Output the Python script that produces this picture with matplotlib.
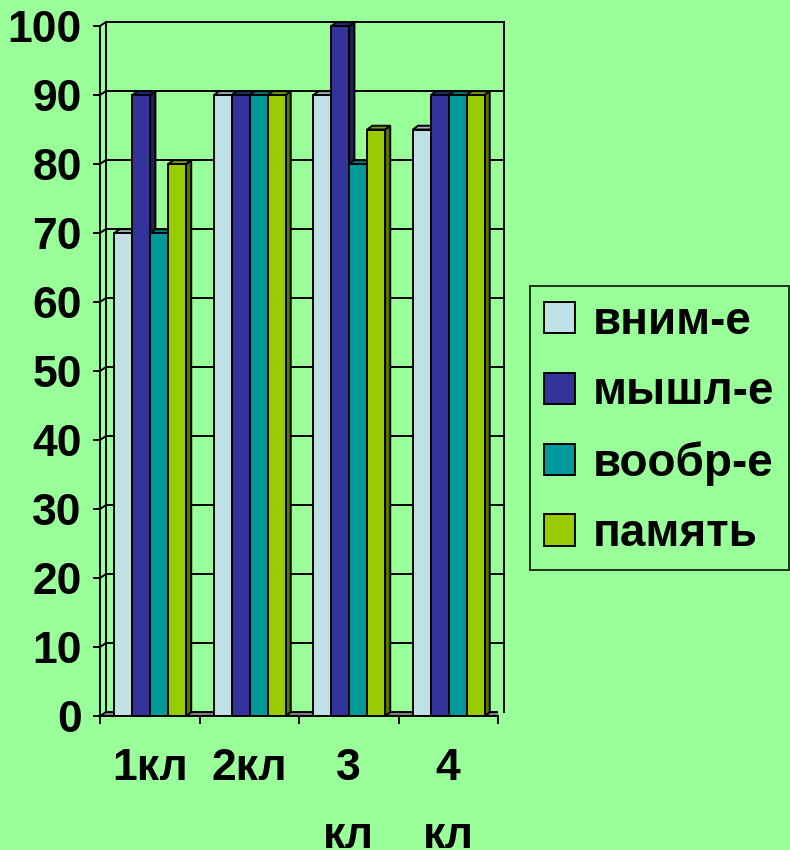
import numpy as np
import matplotlib.pyplot as plt
from matplotlib.patches import Polygon, Patch

plt.rcParams['font.family'] = ['Liberation Sans', 'DejaVu Sans']
plt.rcParams['font.weight'] = 'bold'

# data
classes = ['1кл', '2кл', '3\nкл', '4\nкл']
series = ['вним-е', 'мышл-е', 'вообр-е', 'память']
vnimanie = [70, 90, 90, 85]
myshlenie = [90, 90, 100, 90]
voobrazhenie = [70, 90, 80, 90]
pamyat = [80, 90, 85, 90]
yticks = list(range(0, 101, 10))

values = [vnimanie, myshlenie, voobrazhenie, pamyat]

# front / top / side colours of every series
front_cols = ['#BFE1E6', '#333399', '#009999', '#99CC00']
top_cols = ['#9FB4B8', '#29297A', '#007A7A', '#7A9E00']
side_cols = ['#7F9599', '#20205E', '#005F5F', '#5A7400']
bg = '#99FF99'

# fake 3d depth (data units)
wdx, wdy = 0.06, 0.58     # wall offset
bdx, bdy = 0.052, 0.55    # bar depth
bar_w = 0.18
bar_off = 0.145

fig = plt.figure(figsize=(7.9, 8.5), dpi=100, facecolor=bg)
ax = fig.add_axes([100 / 790, 134 / 850, 398 / 790, 690 / 850])
ax.set_facecolor('none')
ax.set_xlim(0, len(classes))
ax.set_ylim(0, 100)

n = len(classes)
lw = 1.4

# floor
ax.add_patch(Polygon([(0, 0), (n, 0), (n + wdx, wdy), (wdx, wdy)],
                     closed=True, fc='#808080', ec='black', lw=lw, zorder=1))

# back wall, left wall and grid
for v in yticks[1:]:
    ax.plot([wdx, n + wdx], [v + wdy, v + wdy], color='black', lw=lw, zorder=1, clip_on=False)
    ax.plot([0, wdx], [v, v + wdy], color='black', lw=lw, zorder=1, clip_on=False)
ax.plot([wdx, wdx], [wdy, 100 + wdy], color='black', lw=lw, zorder=1, clip_on=False)
ax.plot([n + wdx, n + wdx], [wdy, 100 + wdy], color='black', lw=lw, zorder=1, clip_on=False)

# bars, drawn left to right so later bars cover earlier side faces
z = 2
for c in range(n):
    for i, vals in enumerate(values):
        x0 = c + bar_off + i * bar_w
        x1 = x0 + bar_w
        h = vals[c]
        ax.add_patch(Polygon([(x1, 0), (x1 + bdx, bdy), (x1 + bdx, h + bdy), (x1, h)],
                             closed=True, fc=side_cols[i], ec='black', lw=lw, zorder=z, clip_on=False))
        ax.add_patch(Polygon([(x0, h), (x1, h), (x1 + bdx, h + bdy), (x0 + bdx, h + bdy)],
                             closed=True, fc=top_cols[i], ec='black', lw=lw, zorder=z, clip_on=False))
        ax.bar(x0, h, width=bar_w, align='edge', color=front_cols[i], edgecolor='black',
               linewidth=lw, zorder=z, clip_on=False)
        z += 1

for s in ['top', 'right']:
    ax.spines[s].set_visible(False)
for s in ['left', 'bottom']:
    ax.spines[s].set_linewidth(lw)
    ax.spines[s].set_zorder(50)

ax.set_yticks(yticks)
ax.set_yticklabels([str(v) for v in yticks])
ax.tick_params(axis='y', direction='out', length=5, width=lw, pad=8, labelsize=32)

ax.set_xticks(np.arange(n + 1))
ax.set_xticklabels([])
ax.set_xticks(np.arange(n) + 0.5, minor=True)
ax.set_xticklabels(classes, minor=True, linespacing=1.85)
ax.tick_params(axis='x', which='major', direction='out', length=6, width=lw)
ax.tick_params(axis='x', which='minor', length=0, pad=23, labelsize=32)

handles = [Patch(fc=front_cols[i], ec='black', lw=lw, label=series[i]) for i in range(len(series))]
leg = fig.legend(handles=handles, loc='upper left', bbox_to_anchor=(530 / 790, 1 - 286 / 850),
                 bbox_transform=fig.transFigure, fontsize=33, frameon=True, fancybox=False,
                 handlelength=0.68, handleheight=0.68, handletextpad=0.4, labelspacing=0.58,
                 borderpad=0.3, borderaxespad=0)
leg.get_frame().set_edgecolor('black')
leg.get_frame().set_facecolor(bg)
leg.get_frame().set_linewidth(lw)

fig.savefig('out.png', dpi=100, facecolor=bg)
